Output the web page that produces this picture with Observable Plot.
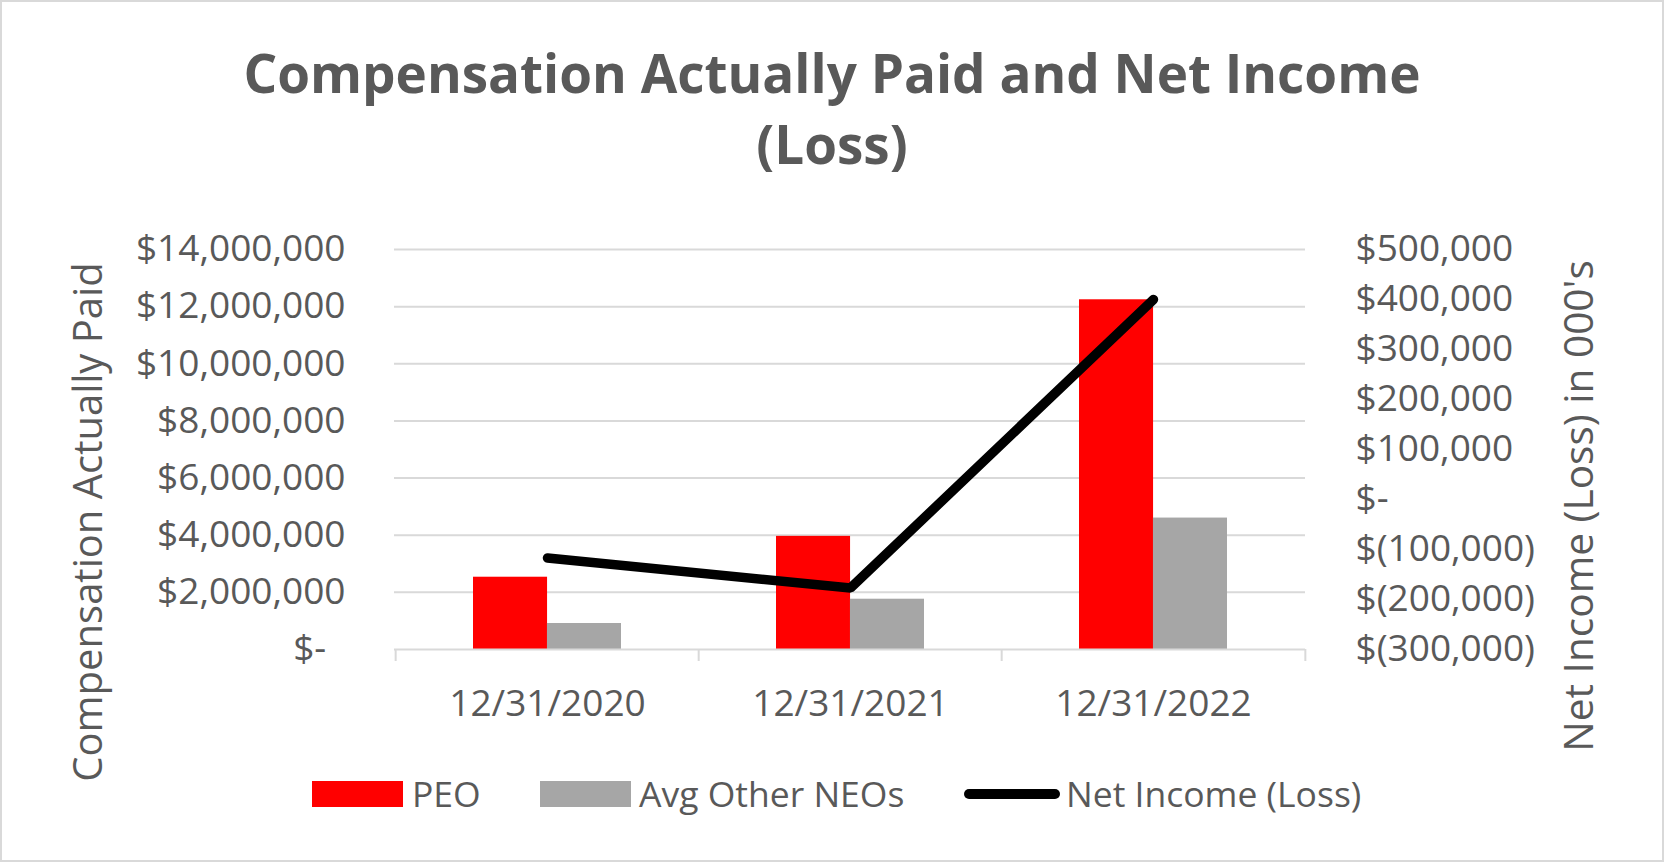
<!DOCTYPE html>
<html>
<head>
<meta charset="utf-8">
<script src="https://cdn.jsdelivr.net/npm/d3@7"></script>
<script src="https://cdn.jsdelivr.net/npm/@observablehq/plot@0.6"></script>
<style>
  body { margin: 0; background: #fff; }
  #wrap { position: relative; width: 1664px; height: 862px; background: #fff; font-family: "Open Sans", sans-serif; color: #595959; overflow: hidden; }
  #frame { position: absolute; left: 0; top: 0; width: 1664px; height: 862px; box-sizing: border-box; border: 2px solid #d9d9d9; pointer-events: none; }
  .title { position: absolute; left: 0; width: 1664px; text-align: center; font-weight: 700; font-size: 53px; line-height: 53px; white-space: nowrap; }
  #chart { position: absolute; left: 0; top: 200px; }
  .ytitle { position: absolute; width: 600px; text-align: center; transform-origin: 0 0; transform: rotate(-90deg); white-space: nowrap; }
  .sw { position: absolute; }
  .lt { position: absolute; font-size: 35.5px; line-height: 36px; white-space: nowrap; }
</style>
</head>
<body>
<div id="wrap">
  <div class="title" style="top:46px;">Compensation Actually Paid and Net Income</div>
  <div class="title" style="top:117px;">(Loss)</div>
  <div id="chart"></div>
  <div class="ytitle" id="yl" style="left:67px; top:822px; font-size:40px; line-height:40px;">Compensation Actually Paid</div>
  <div class="ytitle" id="yr" style="left:1558px; top:806px; font-size:40.6px; line-height:40.6px;">Net Income (Loss) in 000's</div>
  <div id="legend"></div>
  <div id="frame"></div>
</div>
<script>
// ---- data ----
const dates = ["12/31/2020", "12/31/2021", "12/31/2022"];
const peo = [2530000, 3960000, 12240000];
const avgOtherNeos = [910000, 1760000, 4600000];
const netIncome = [-117000, -177000, 400000]; // in 000's
const leftTicks = [0, 2000000, 4000000, 6000000, 8000000, 10000000, 12000000, 14000000];
const rightTicks = [-300000, -200000, -100000, 0, 100000, 200000, 300000, 400000, 500000];
const seriesNames = ["PEO", "Avg Other NEOs", "Net Income (Loss)"];
const seriesColors = ["#ff0000", "#a6a6a6", "#000000"];

// ---- secondary axis mapping (right -> left scale) ----
const leftMax = 14000000, rightMin = -300000, rightMax = 500000;
const k = leftMax / (rightMax - rightMin);
const toLeft = v => (v - rightMin) * k;
const fromLeft = v => Math.round(v / k + rightMin);

const rows = dates.map((d, i) => ({date: d, peo: peo[i], neo: avgOtherNeos[i], net: netIncome[i]}));

const fmt = d3.format(",");
const fmtLeft = v => v === 0 ? "$-\u00a0\u00a0" : "$" + fmt(v);
const fmtRight = v => v === 0 ? "$-" : v < 0 ? "$(" + fmt(-v) + ")" : "$" + fmt(v);

const W = 1664, H = 540;
const mL = 394, mR = 359, mT = 49, mB = 91;
const pInner = 0.513, pOuter = pInner / 2;
const step = (W - mL - mR) / dates.length;
const bw = step * (1 - pInner);
const grid = "#d9d9d9";

const chart = Plot.plot({
  width: W, height: H,
  marginLeft: mL, marginRight: mR, marginTop: mT, marginBottom: mB,
  style: {fontFamily: "'Open Sans', sans-serif", fontSize: "37px", color: "#595959", background: "transparent", overflow: "visible"},
  x: {type: "band", domain: dates, paddingInner: pInner, paddingOuter: pOuter, align: 0.5, label: null},
  y: {domain: [0, leftMax], label: null},
  marks: [
    Plot.gridY(leftTicks.filter(t => t > 0), {stroke: grid, strokeOpacity: 1, strokeWidth: 2}),
    Plot.barY(rows, {x: "date", y: "peo", fill: seriesColors[0], insetLeft: 0, insetRight: bw / 2}),
    Plot.barY(rows, {x: "date", y: "neo", fill: seriesColors[1], insetLeft: bw / 2, insetRight: 0}),
    Plot.ruleY([0], {stroke: grid, strokeWidth: 2}),
    Plot.ruleX(dates, {x: d => d, y1: 0, y2: 0, dx: -step / 2, insetBottom: -12, stroke: grid, strokeWidth: 2}),
    Plot.ruleX(dates.slice(-1), {x: d => d, y1: 0, y2: 0, dx: step / 2, insetBottom: -12, stroke: grid, strokeWidth: 2}),
    Plot.line(rows, {x: "date", y: d => toLeft(d.net), stroke: seriesColors[2], strokeWidth: 9.5, strokeLinecap: "round", strokeLinejoin: "miter"}),
    Plot.axisY(leftTicks, {anchor: "left", tickSize: 0, tickPadding: 49, tickFormat: fmtLeft, fontSize: 37, label: null}),
    Plot.axisY(rightTicks.map(toLeft), {anchor: "right", tickSize: 0, tickPadding: 50, tickFormat: v => fmtRight(fromLeft(v)), fontSize: 37, label: null}),
    Plot.axisX({tickSize: 0, tickPadding: 40, fontSize: 37, label: null})
  ]
});
document.getElementById("chart").appendChild(chart);

// ---- legend ----
const legend = document.getElementById("legend");
const items = [
  {sw: {left: 312, top: 781, width: 91, height: 26, bg: seriesColors[0], r: 0}, textLeft: 412},
  {sw: {left: 540, top: 781, width: 91, height: 26, bg: seriesColors[1], r: 0}, textLeft: 639},
  {sw: {left: 964, top: 789, width: 96, height: 10, bg: seriesColors[2], r: 5}, textLeft: 1066}
];
items.forEach((it, i) => {
  const s = document.createElement("div");
  s.className = "sw";
  Object.assign(s.style, {left: it.sw.left + "px", top: it.sw.top + "px", width: it.sw.width + "px", height: it.sw.height + "px", background: it.sw.bg, borderRadius: it.sw.r + "px"});
  legend.appendChild(s);
  const t = document.createElement("div");
  t.className = "lt";
  t.textContent = seriesNames[i];
  Object.assign(t.style, {left: it.textLeft + "px", top: "775px"});
  legend.appendChild(t);
});
</script>
</body>
</html>
